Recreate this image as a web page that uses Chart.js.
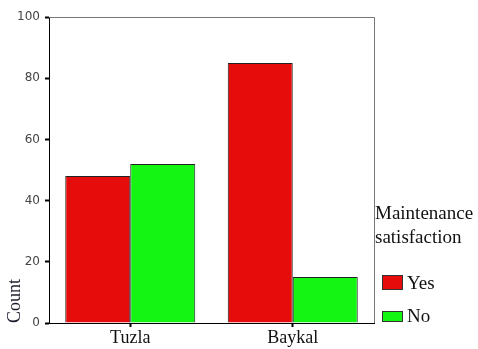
<!DOCTYPE html>
<html>
<head>
<meta charset="utf-8">
<script src="https://cdn.jsdelivr.net/npm/chart.js@4"></script>
<style>
  html, body { margin: 0; padding: 0; background: #fff; }
  #box { width: 478px; height: 349px; }
</style>
</head>
<body>
<div id="box"><canvas id="myChart"></canvas></div>
<script>
var sites = ["Tuzla", "Baykal"];
var yesCounts = [48, 85];
var noCounts = [52, 15];
var seriesNames = ["Yes", "No"];
var legendTitle = ["Maintenance", "satisfaction"];
var yTicks = [0, 20, 40, 60, 80, 100];

var barColors = ["#e60c0c", "#14f514"];

// frame on top and right of the plot, plus legend on the right
var framePlugin = {
  id: "frame",
  afterDraw: function (chart) {
    var ctx = chart.ctx;
    var a = chart.chartArea;
    ctx.save();
    ctx.strokeStyle = "#777";
    ctx.lineWidth = 1;
    ctx.beginPath();
    ctx.moveTo(a.left, a.top + 0.5);
    ctx.lineTo(a.right + 0.5, a.top + 0.5);
    ctx.lineTo(a.right + 0.5, a.bottom);
    ctx.stroke();

    ctx.fillStyle = "#111";
    ctx.font = "19px 'Liberation Serif'";
    ctx.textBaseline = "alphabetic";
    ctx.fillText(legendTitle[0], 375, 219);
    ctx.fillText(legendTitle[1], 375, 243);

    var rows = [{ y: 275, h: 15, ty: 289 }, { y: 311, h: 11, ty: 322 }];
    chart.data.datasets.forEach(function (ds, i) {
      var r = rows[i];
      ctx.fillStyle = ds.backgroundColor;
      ctx.fillRect(382, r.y, 21, r.h);
      ctx.strokeStyle = "#333";
      ctx.strokeRect(382.5, r.y + 0.5, 20, r.h - 1);
      ctx.fillStyle = "#111";
      ctx.fillText(ds.label, 407, r.ty);
    });
    ctx.restore();
  }
};

var myChart = new Chart(document.getElementById("myChart"), {
  type: "bar",
  data: {
    labels: sites,
    datasets: [
      { label: seriesNames[0], data: yesCounts, backgroundColor: barColors[0] },
      { label: seriesNames[1], data: noCounts, backgroundColor: barColors[1] }
    ]
  },
  options: {
    responsive: true,
    maintainAspectRatio: false,
    animation: false,
    layout: { padding: { left: 0, right: 104, top: 17, bottom: 0 } },
    datasets: {
      bar: {
        categoryPercentage: 0.8,
        barPercentage: 1.0,
        borderWidth: 1,
        borderColor: "#222"
      }
    },
    plugins: {
      legend: { display: false },
      tooltip: { enabled: false }
    },
    scales: {
      x: {
        afterFit: function (scale) { scale.height = 26; },
        grid: {
          offset: false,
          drawOnChartArea: false,
          drawTicks: true,
          tickLength: 4,
          tickWidth: 2,
          tickColor: "#000"
        },
        border: { color: "#000", width: 1 },
        ticks: {
          padding: 0,
          color: "#111",
          font: { family: "'Liberation Serif'", size: 18 }
        }
      },
      y: {
        min: 0,
        max: 100,
        afterFit: function (scale) { scale.width = 49; },
        afterBuildTicks: function (scale) {
          scale.ticks = yTicks.map(function (v) { return { value: v }; });
        },
        grid: {
          drawOnChartArea: false,
          drawTicks: true,
          tickLength: 4,
          tickWidth: 2,
          tickColor: "#000"
        },
        border: { color: "#000", width: 1 },
        ticks: {
          padding: 5,
          color: "#444",
          font: { family: "'DejaVu Sans'", size: 12 }
        },
        title: {
          display: true,
          text: "Count",
          align: "start",
          color: "#1c1c2c",
          padding: { top: 4, bottom: 0 },
          font: { family: "'Liberation Serif'", size: 18 }
        }
      }
    }
  },
  plugins: [framePlugin]
});
</script>
</body>
</html>
